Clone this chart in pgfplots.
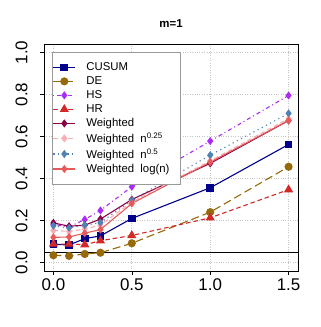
\documentclass[border=0pt]{standalone}
\usepackage{fontspec}
\setmainfont{Liberation Sans}
\usepackage{pgfplots}
\pgfplotsset{compat=1.18}
\usetikzlibrary{calc}

\definecolor{cusum}{RGB}{0,0,140}
\definecolor{de}{RGB}{150,105,10}
\definecolor{hs}{RGB}{170,45,245}
\definecolor{hr}{RGB}{210,40,40}
\definecolor{wgt}{RGB}{140,0,70}
\definecolor{wq}{RGB}{250,175,180}
\definecolor{wh}{RGB}{80,130,180}
\definecolor{wlog}{RGB}{230,90,90}

\newcommand{\legtxt}[1]{\hspace*{4bp}#1}

\begin{document}
\begin{tikzpicture}
\begin{axis}[
  name=ax,
  scale only axis,
  width=254bp, height=227bp,
  xmin=-0.06, xmax=1.56,
  ymin=-0.04, ymax=1.04,
  xtick={0,0.5,1,1.5},
  ytick={0,0.2,0.4,0.6,0.8,1},
  /pgf/number format/.cd, fixed, fixed zerofill, precision=1, assume math mode=true,
  /pgfplots/.cd,
  tick align=outside,
  major tick length=4bp,
  tick style={black, line width=0.6bp},
  xtick pos=bottom, ytick pos=left,
  axis line style={black, line width=0.8bp},
  ticklabel style={font=\fontsize{17}{17}\selectfont},
  yticklabel style={xshift=-9bp, rotate=90, anchor=south},
  grid=major,
  major grid style={dotted, line width=0.8bp, gray!45},
  legend style={at={(axis cs:-0.006,1.0)}, anchor=north west,
    draw=gray!80, line width=0.6bp, fill=white,
    font=\fontsize{11.4}{12}\selectfont,
    row sep=1.6bp, inner xsep=0bp, inner ysep=8.5bp,
    cells={anchor=west},
    nodes={inner xsep=6.5bp, inner ysep=1.5bp}},
  legend cell align=left,
  legend image code/.code={
    \draw[mark repeat=2,mark phase=2,#1] plot coordinates {(-3bp,0bp) (8bp,0bp) (19bp,0bp)};
  },
  every axis plot/.append style={line width=1.1bp},
]
\addplot[black, line width=0.8bp, forget plot] coordinates {(-0.06,0.05) (1.56,0.05)};

\addplot[cusum, mark=square*, mark size=3.3bp, mark options={solid}]
  coordinates {(0,0.087) (0.1,0.084) (0.2,0.114) (0.3,0.127) (0.5,0.210) (1.0,0.356) (1.5,0.562)};
\addlegendentry{\legtxt{CUSUM}}
\addplot[de, dash pattern=on 8bp off 4bp, mark=*, mark size=3.5bp, mark options={solid}]
  coordinates {(0,0.035) (0.1,0.032) (0.2,0.041) (0.3,0.047) (0.5,0.092) (1.0,0.240) (1.5,0.456)};
\addlegendentry{\legtxt{DE}}
\addplot[hs, dash pattern=on 1bp off 3bp on 4bp off 3bp, mark=diamond*, mark size=3.2bp, mark options={solid}]
  coordinates {(0,0.182) (0.1,0.170) (0.2,0.205) (0.3,0.248) (0.5,0.361) (1.0,0.578) (1.5,0.795)};
\addlegendentry{\legtxt{HS}}
\addplot[hr, dash pattern=on 4.5bp off 3bp, mark=triangle*, mark size=4.2bp, mark options={solid}]
  coordinates {(0,0.088) (0.1,0.088) (0.2,0.085) (0.3,0.104) (0.5,0.129) (1.0,0.213) (1.5,0.347)};
\addlegendentry{\legtxt{HR}}
\addplot[wgt, mark=diamond*, mark size=3.2bp, mark options={solid}]
  coordinates {(0,0.189) (0.1,0.173) (0.2,0.178) (0.3,0.207) (0.5,0.300) (1.0,0.472) (1.5,0.676)};
\addlegendentry{\legtxt{Weighted}}
\addplot[wq, dash pattern=on 4.5bp off 3bp, mark=diamond*, mark size=3.2bp, mark options={solid}]
  coordinates {(0,0.153) (0.1,0.148) (0.2,0.160) (0.3,0.178) (0.5,0.288) (1.0,0.484) (1.5,0.685)};
\addlegendentry{\legtxt{Weighted\ \ n\textsuperscript{0.25}}}
\addplot[wh, dash pattern=on 1.2bp off 3.5bp, mark=diamond*, mark size=3.2bp, mark options={solid}]
  coordinates {(0,0.175) (0.1,0.165) (0.2,0.178) (0.3,0.190) (0.5,0.297) (1.0,0.511) (1.5,0.710)};
\addlegendentry{\legtxt{Weighted\ \ n\textsuperscript{0.5}}}
\addplot[wlog, mark=diamond*, mark size=3.2bp, mark options={solid}]
  coordinates {(0,0.120) (0.1,0.122) (0.2,0.140) (0.3,0.157) (0.5,0.281) (1.0,0.478) (1.5,0.676)};
\addlegendentry{\legtxt{Weighted\ \ log(n)\hspace*{4bp}}}
\end{axis}
\node[font=\fontsize{11.5}{12}\selectfont\bfseries, anchor=base] at ($(ax.north)+(0,16bp)$) {m=1};
\path ($(ax.south west)+(-44bp,-56bp)$) rectangle ($(ax.north east)+(23bp,44bp)$);
\end{tikzpicture}
\end{document}
